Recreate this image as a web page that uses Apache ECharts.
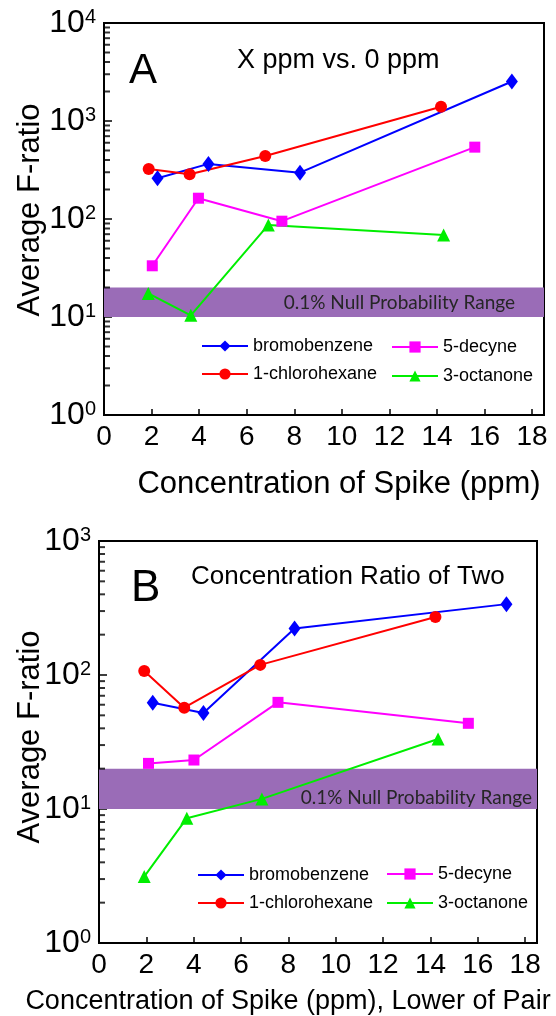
<!DOCTYPE html>
<html>
<head>
<meta charset="utf-8">
<script src="https://cdn.jsdelivr.net/npm/echarts@6/dist/echarts.min.js"></script>
<style>
  html, body { margin: 0; padding: 0; background: #fff; }
  #chart { width: 556px; height: 1016px; }
</style>
</head>
<body>
<div id="chart"></div>
<script>
// Compound names (legend order follows series order)
const compounds = ['bromobenzene', '1-chlorohexane', '5-decyne', '3-octanone'];

// Panel A: X ppm vs. 0 ppm  -> [spike concentration (ppm), average F-ratio]
const bromoA    = [[2.25, 261], [4.39, 365], [8.24, 297], [17.15, 2530]];
const chloroA   = [[1.88, 324], [3.60, 286], [6.78, 440], [14.17, 1395]];
const decyneA   = [[2.03, 33.3], [3.97, 163], [7.48, 95], [15.59, 541]];
const octanoneA = [[1.86, 17.4], [3.65, 10.4], [6.91, 87], [14.28, 68.6]];

// Panel B: concentration ratio of two -> [lower concentration of pair (ppm), average F-ratio]
const bromoB    = [[2.27, 62], [4.41, 52], [8.26, 222], [17.21, 338]];
const chloroB   = [[1.91, 107], [3.60, 57], [6.81, 119], [14.21, 271]];
const decyneB   = [[2.09, 21.9], [4.01, 23.2], [7.56, 62.5], [15.60, 43.6]];
const octanoneB = [[1.91, 3.13], [3.71, 8.54], [6.88, 11.9], [14.32, 33.3]];

// 0.1% null probability range of the F-ratio
const nullBand = [10, 20];
const nullBandLabel = '0.1% Null Probability Range';

// Axis ranges
const xRange = [0, 18.5];
const yRangeA = [1, 10000];
const yRangeB = [1, 1000];

const FONT = '"Liberation Sans", Arial, Helvetica, sans-serif';
const BAND_FONT = 'Lato, "Open Sans", sans-serif';

const markerStyle = {
  'bromobenzene':   { color: '#0000ff', symbol: 'diamond',  symbolSize: [12, 16] },
  '1-chlorohexane': { color: '#ff0000', symbol: 'circle',   symbolSize: 12 },
  '5-decyne':       { color: '#ff00ff', symbol: 'rect',     symbolSize: 11 },
  '3-octanone':     { color: '#00ee00', symbol: 'triangle', symbolSize: 13 }
};

// Log-paper minor ticks (2..9 within each decade), placed on the left axis
function minorTickValues(lo, hi) {
  const out = [];
  for (let d = lo; d < hi; d *= 10) {
    for (let m = 2; m <= 9; m++) out.push([xRange[0], m * d]);
  }
  return out;
}

function decadeLabel(v) {
  const e = Math.round(Math.log10(v));
  return '{b|10}{s|' + e + '}';
}

function xAxisDef(gridIndex) {
  return {
    type: 'value', gridIndex, min: xRange[0], max: xRange[1], interval: 2,
    axisLine: { lineStyle: { color: '#000', width: 2 } },
    axisTick: { inside: true, length: 6, lineStyle: { color: '#000', width: 1.5 } },
    axisLabel: {
      color: '#000', fontSize: 28, fontFamily: FONT, margin: 8,
      formatter: v => (v % 2 === 0 ? String(v) : '')
    },
    splitLine: { show: false }
  };
}

function yAxisDef(gridIndex, range) {
  return {
    type: 'log', logBase: 10, gridIndex, min: range[0], max: range[1],
    axisLine: { lineStyle: { color: '#000', width: 2 } },
    axisTick: { inside: true, length: 8, lineStyle: { color: '#000', width: 1.5 } },
    axisLabel: {
      color: '#000', margin: 8, formatter: decadeLabel,
      rich: {
        b: { fontSize: 32, fontFamily: FONT, color: '#000' },
        s: { fontSize: 20, fontFamily: FONT, color: '#000', verticalAlign: 'top' }
      }
    },
    splitLine: { show: false }
  };
}

// Minor ticks drawn as short horizontal marks on the y axis; also hosts the null band
function minorTickSeries(axisIndex, range, labelOffset) {
  return {
    type: 'scatter', xAxisIndex: axisIndex, yAxisIndex: axisIndex, z: 4, silent: true,
    clip: false,
    symbol: 'rect', symbolSize: [6, 2], symbolOffset: [3, 0],
    itemStyle: { color: '#000' },
    data: minorTickValues(range[0], range[1]),
    markArea: {
      silent: true,
      itemStyle: { color: '#9a6cb7', opacity: 1 },
      label: {
        show: true, position: 'insideRight', offset: labelOffset,
        formatter: nullBandLabel, color: '#262626',
        fontFamily: BAND_FONT, fontSize: 19
      },
      data: [[{ yAxis: nullBand[0] }, { yAxis: nullBand[1] }]]
    }
  };
}

function compoundSeries(name, data, axisIndex) {
  const s = markerStyle[name];
  return {
    name, type: 'line', data, xAxisIndex: axisIndex, yAxisIndex: axisIndex, z: 3,
    symbol: s.symbol, symbolSize: s.symbolSize, showSymbol: true,
    lineStyle: { color: s.color, width: 2 },
    itemStyle: { color: s.color, borderWidth: 0 },
    clip: false
  };
}

function legendDef(names, left, top, gap) {
  return {
    data: names, orient: 'vertical', left, top, itemGap: gap, padding: 0,
    itemWidth: 46, itemHeight: 14, selectedMode: false,
    textStyle: { fontSize: 18, fontFamily: FONT, color: '#000', lineHeight: 20 }
  };
}

function text(str, x, y, size, opts) {
  return Object.assign({
    type: 'text', x, y, silent: true,
    style: Object.assign({
      text: str, fill: '#000', font: size + 'px ' + FONT,
      textAlign: 'left', textVerticalAlign: 'middle'
    }, (opts && opts.style) || {})
  }, opts && opts.rotation !== undefined ? { rotation: opts.rotation } : {});
}

const chart = echarts.init(document.getElementById('chart'));
chart.setOption({
  animation: false,
  backgroundColor: '#fff',
  grid: [
    { left: 104, top: 23, width: 440, height: 392, show: true, borderColor: '#000', borderWidth: 2 },
    { left: 99, top: 541, width: 438, height: 402, show: true, borderColor: '#000', borderWidth: 2 }
  ],
  xAxis: [xAxisDef(0), xAxisDef(1)],
  yAxis: [yAxisDef(0, yRangeA), yAxisDef(1, yRangeB)],
  legend: [
    legendDef([compounds[0], compounds[1]], 201, 336, 8),
    legendDef([compounds[2], compounds[3]], 391, 337, 9),
    legendDef([compounds[0], compounds[1]], 197, 865, 8),
    legendDef([compounds[2], compounds[3]], 386, 864, 9)
  ],
  series: [
    minorTickSeries(0, yRangeA, [-24, 1]),
    minorTickSeries(1, yRangeB, [0, 9]),
    compoundSeries(compounds[0], bromoA, 0),
    compoundSeries(compounds[1], chloroA, 0),
    compoundSeries(compounds[2], decyneA, 0),
    compoundSeries(compounds[3], octanoneA, 0),
    compoundSeries(compounds[0], bromoB, 1),
    compoundSeries(compounds[1], chloroB, 1),
    compoundSeries(compounds[2], decyneB, 1),
    compoundSeries(compounds[3], octanoneB, 1)
  ],
  graphic: [
    text('A', 129, 71, 42),
    text('X ppm vs. 0 ppm', 237, 61, 27),
    text('B', 131, 589, 44),
    text('Concentration Ratio of Two', 191, 577, 26),
    text('Average F-ratio', 30, 210, 31, { rotation: Math.PI / 2, style: { textAlign: 'center' } }),
    text('Average F-ratio', 30, 737, 31, { rotation: Math.PI / 2, style: { textAlign: 'center' } }),
    text('Concentration of Spike (ppm)', 339, 484, 31, { style: { textAlign: 'center' } }),
    text('Concentration of Spike (ppm), Lower of Pair', 288, 1002, 27, { style: { textAlign: 'center' } })
  ]
});
</script>
</body>
</html>
